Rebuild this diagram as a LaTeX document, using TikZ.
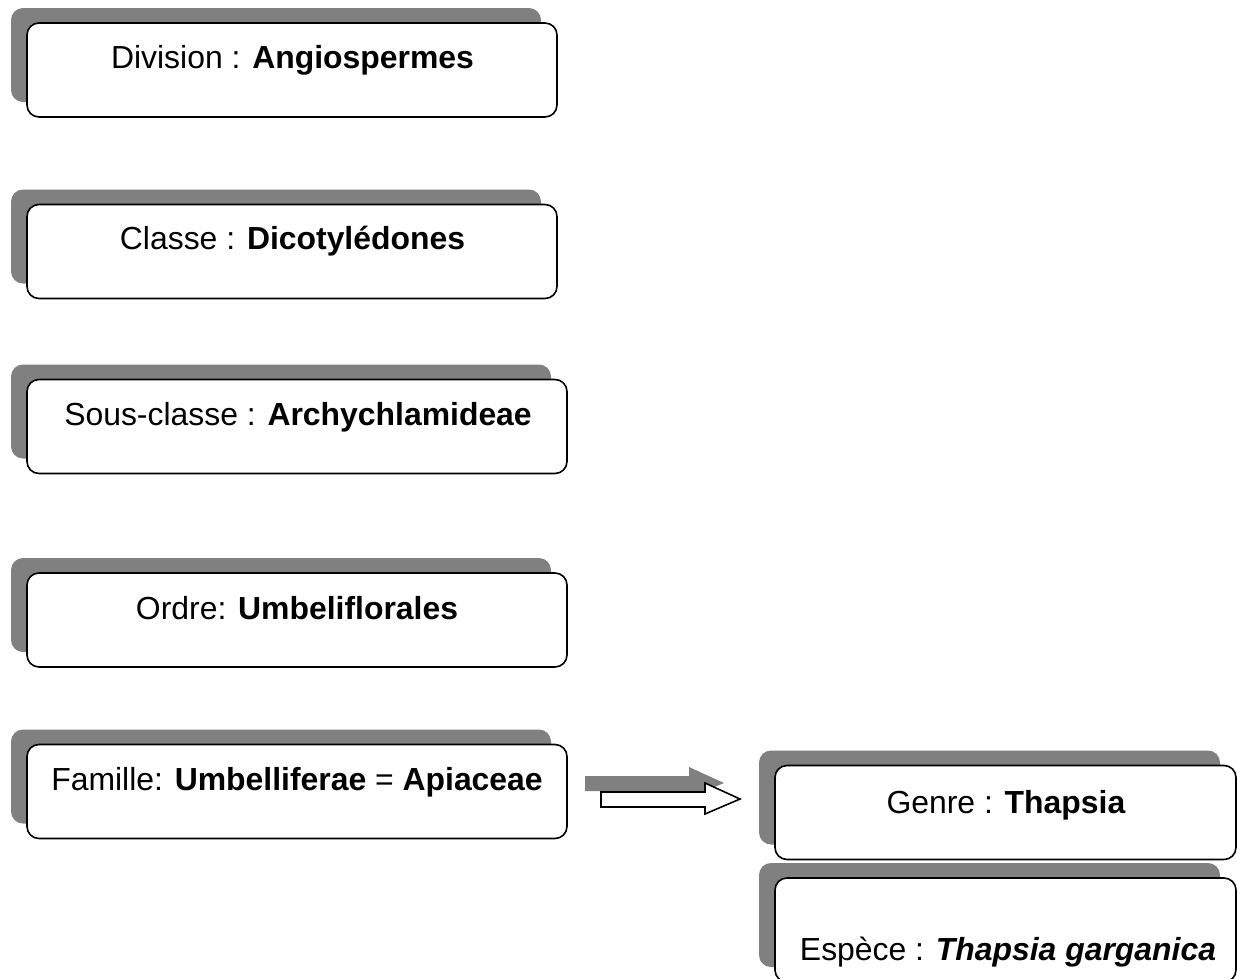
\documentclass[tikz,border=0pt]{standalone}
\usepackage{fontspec}
\setmainfont{Liberation Sans}
\usetikzlibrary{shadows}
\definecolor{shadowgray}{HTML}{808080}
\tikzset{
  box/.style={draw=black, line width=1.6pt, rounded corners=12pt, fill=white,
    minimum height=94pt, inner sep=0pt,
    general shadow={fill=shadowgray, shadow xshift=-16pt, shadow yshift=15pt}},
  lbl/.style={anchor=base, inner sep=0pt, font=\fontsize{31.9}{38}\selectfont},
  arrowshadow/.style={fill=shadowgray, draw=none},
  arrowbody/.style={fill=white, draw=black, line width=1.6pt, line join=miter}
}
\begin{document}
\begin{tikzpicture}[x=1pt,y=-1pt]
\useasboundingbox (0,0) rectangle (1237,978);
\clip (0,0) rectangle (1237,978);
% boxes
\node[box, minimum width=530pt] (division) at (292,70) {};
\node[box, minimum width=530pt] (classe) at (292,251.5) {};
\node[box, minimum width=540pt] (sousclasse) at (297,426.5) {};
\node[box, minimum width=540pt] (ordre) at (297,620) {};
\node[box, minimum width=540pt] (famille) at (297,791.5) {};
\node[box, minimum width=461pt] (genre) at (1005.5,812.5) {};
\node[box, minimum width=461pt, minimum height=104pt] (espece) at (1005.5,930) {};
% labels
\node[lbl] (tdivision) at (292.5,68.5) {Division : \textbf{Angiospermes}};
\node[lbl] (tclasse) at (292.5,249.5) {Classe : \textbf{Dicotylédones}};
\node[lbl] (tsousclasse) at (298,425.5) {Sous-classe : \textbf{Archychlamideae}};
\node[lbl] (tordre) at (297,619.5) {Ordre: \textbf{Umbeliflorales}};
\node[lbl] (tfamille) at (297,790.5) {Famille: \textbf{Umbelliferae} = \textbf{Apiaceae}};
\node[lbl] (tgenre) at (1006,813.5) {Genre : \textbf{Thapsia}};
\node[lbl] (tespece) at (1008,960.5) {Espèce : \textbf{\itshape Thapsia garganica}};
% block arrow
\path[arrowshadow] (585,776) -- (689,776) -- (689,767) -- (724,783) -- (689,798) -- (689,791) -- (585,791) -- cycle;
\draw[arrowbody] (601,792) -- (705,792) -- (705,783) -- (740,799) -- (705,814) -- (705,807) -- (601,807) -- cycle;
\end{tikzpicture}
\end{document}
